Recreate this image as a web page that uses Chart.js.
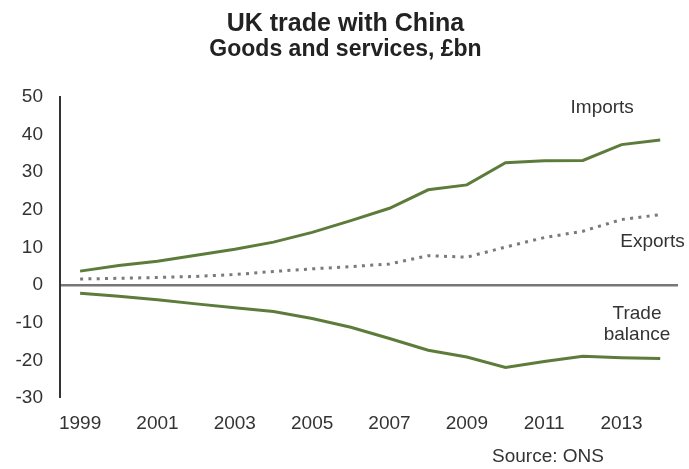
<!DOCTYPE html>
<html>
<head>
<meta charset="utf-8">
<script src="https://cdn.jsdelivr.net/npm/chart.js@4.4.1/dist/chart.umd.min.js"></script>
<style>
  html, body { margin: 0; padding: 0; background: #fff; }
  #wrap { width: 689px; height: 469px; position: relative; }
</style>
</head>
<body>
<div id="wrap"><canvas id="myChart"></canvas></div>
<script>

// years 1999 - 2014, £bn
const years = [1999, 2000, 2001, 2002, 2003, 2004, 2005, 2006, 2007, 2008, 2009, 2010, 2011, 2012, 2013, 2014];
const imports = [3.7, 5.2, 6.3, 7.9, 9.5, 11.4, 14.0, 17.1, 20.4, 25.3, 26.6, 32.5, 33.0, 33.1, 37.3, 38.5];
const exports = [1.6, 1.8, 2.0, 2.3, 2.8, 3.6, 4.3, 4.9, 5.6, 7.8, 7.4, 10.1, 12.6, 14.3, 17.4, 18.7];
const balance = [-2.2, -3.0, -3.9, -5.0, -6.0, -7.0, -8.9, -11.2, -14.2, -17.3, -19.1, -21.9, -20.3, -18.9, -19.3, -19.5];

const yearTicks = [1999, 2001, 2003, 2005, 2007, 2009, 2011, 2013];

// series name labels drawn on the plot
const seriesLabels = [
    { text: 'Imports', x: 2012.5, y: 47 },
    { text: 'Exports', x: 2013.8, y: 11.5 },
    { text: 'Trade', x: 2013.4, y: -7.5 },
    { text: 'balance', x: 2013.4, y: -13.3 }
];

const green = '#5d7c3b';
const fontFam = '"Liberation Sans", Arial, sans-serif';

const toPts = (vals) => vals.map((v, i) => ({ x: years[i], y: v }));

const labelPlugin = {
    id: 'labelPlugin',
    afterDraw(chart) {
        const ctx = chart.ctx;
        const xs = chart.scales.x, ys = chart.scales.y;
        ctx.save();
        ctx.fillStyle = '#333';
        ctx.font = '19px ' + fontFam;
        ctx.textAlign = 'center';
        ctx.textBaseline = 'middle';
        seriesLabels.forEach(l => {
            ctx.fillText(l.text, xs.getPixelForValue(l.x), ys.getPixelForValue(l.y));
        });
        // source note
        ctx.fillText('Source: ONS', 548, 457);
        ctx.restore();
    }
};

const graph01 = document.getElementById('myChart').getContext('2d');

const myChart = new Chart(graph01, {
    type: 'line',
    data: {
        datasets: [
            {
                label: 'Imports',
                data: toPts(imports),
                borderColor: green,
                borderWidth: 3,
                pointRadius: 0,
                tension: 0,
            },
            {
                label: 'Exports',
                data: toPts(exports),
                borderColor: '#7a7a7a',
                borderWidth: 3,
                borderDash: [3, 5.3],
                pointRadius: 0,
                tension: 0,
            },
            {
                label: 'Trade balance',
                data: toPts(balance),
                borderColor: green,
                borderWidth: 3,
                pointRadius: 0,
                tension: 0,
            }
        ]
    },
    options: {
        responsive: true,
        maintainAspectRatio: false,
        animation: false,
        layout: {
            padding: { left: 13, right: 11, top: 0, bottom: 0 }
        },
        plugins: {
            legend: { display: false },
            tooltip: { enabled: false },
            title: {
                display: true,
                text: 'UK trade with China',
                color: '#222',
                font: { family: fontFam, size: 25, weight: 'bold', lineHeight: 1.1 },
                padding: { top: 10, bottom: 0 }
            },
            subtitle: {
                display: true,
                text: 'Goods and services, £bn',
                color: '#222',
                font: { family: fontFam, size: 23, weight: 'bold', lineHeight: 1.1 },
                padding: { top: 0, bottom: 34 }
            }
        },
        scales: {
            x: {
                type: 'linear',
                min: 1998.48,
                max: 2014.46,
                grid: { display: false, drawTicks: false },
                border: { display: false },
                afterBuildTicks: (scale) => {
                    scale.ticks = yearTicks.map(v => ({ value: v }));
                },
                afterFit: (scale) => { scale.height = 71; },
                ticks: {
                    color: '#333',
                    font: { family: fontFam, size: 19 },
                    padding: 14,
                    maxRotation: 0,
                    autoSkip: false,
                    callback: (v) => String(v)
                }
            },
            y: {
                min: -30,
                max: 50,
                afterFit: (scale) => { scale.width = 47; },
                grid: {
                    drawTicks: false,
                    color: (c) => c.tick && c.tick.value === 0 ? '#777' : 'transparent',
                    lineWidth: (c) => c.tick && c.tick.value === 0 ? 2.5 : 0
                },
                border: { display: true, color: '#333', width: 2 },
                ticks: {
                    stepSize: 10,
                    color: '#333',
                    font: { family: fontFam, size: 19 },
                    padding: 17
                }
            }
        }
    },
    plugins: [labelPlugin]
});

</script>
</body>
</html>
